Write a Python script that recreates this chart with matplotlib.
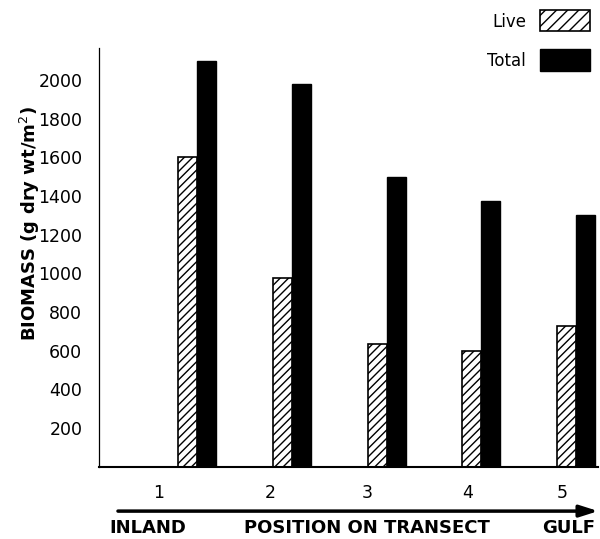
import matplotlib
matplotlib.use('Agg')
import matplotlib.pyplot as plt
from matplotlib.patches import Rectangle
import numpy as np

plt.rcParams['font.family'] = 'DejaVu Sans'
plt.rcParams['hatch.linewidth'] = 1.0

# data
positions = [1, 2, 3, 4, 5]
pos_labels = ['1', '2', '3', '4', '5']
live = [1600, 975, 635, 600, 730]
total = [2100, 1978, 1500, 1376, 1302]
yticks = [200, 400, 600, 800, 1000, 1200, 1400, 1600, 1800, 2000]

fig = plt.figure(figsize=(6, 5.39), dpi=100)
ax = fig.add_axes([0.165, 0.1341, 0.832, 0.7769])

x = np.array(positions, dtype=float)
w = 0.2
ax.bar(x - w / 2, live, w, color='white', edgecolor='black', hatch='////', linewidth=1.2)
ax.bar(x + w / 2, total, w, color='black', edgecolor='black', linewidth=1.0)

ax.set_xlim(-0.034, 5.232)
ax.set_ylim(0, 2166)
ax.set_yticks(yticks)
ax.set_yticklabels([str(v) for v in yticks], fontsize=12.5)
ax.tick_params(axis='y', length=0, pad=12)
ax.set_xticks([])
for s in ['top', 'right']:
    ax.spines[s].set_visible(False)
ax.spines['left'].set_linewidth(0.9)
ax.spines['bottom'].set_linewidth(1.5)

# position numbers, drawn a little left of each pair
num_x = [0.59, 1.77, 2.80, 3.85, 4.85]
for nx, lab in zip(num_x, pos_labels):
    ax.text(nx, -0.063, lab, transform=ax.get_xaxis_transform(),
            ha='center', va='center', fontsize=12.5, clip_on=False)

# transect arrow
ax.annotate('', xy=(1.0, -0.106), xytext=(0.038, -0.106),
            xycoords='axes fraction', textcoords='axes fraction',
            arrowprops=dict(arrowstyle='-|>,head_length=1.1,head_width=0.35',
                            color='black', lw=2.5, shrinkA=0, shrinkB=0))

ax.text(0.098, -0.146, 'INLAND', transform=ax.transAxes, ha='center', va='center',
        fontsize=13, fontweight='bold')
ax.text(0.537, -0.146, 'POSITION ON TRANSECT', transform=ax.transAxes, ha='center',
        va='center', fontsize=13, fontweight='bold')
ax.text(0.94, -0.146, 'GULF', transform=ax.transAxes, ha='center', va='center',
        fontsize=13, fontweight='bold')

fig.text(0.05, 0.586, 'BIOMASS (g dry wt/m$^2$)', rotation=90, ha='center',
         va='center', fontsize=13, fontweight='bold')

# legend drawn by hand
fig.text(0.877, 0.959, 'Live', ha='right', va='center', fontsize=12)
fig.text(0.877, 0.886, 'Total', ha='right', va='center', fontsize=12)
fig.patches.append(Rectangle((0.9, 0.9425), 0.0833, 0.039, transform=fig.transFigure,
                             facecolor='white', edgecolor='black', hatch='///', lw=1.2))
fig.patches.append(Rectangle((0.9, 0.868), 0.0833, 0.041, transform=fig.transFigure,
                             facecolor='black', edgecolor='black', lw=1.0))

fig.savefig('out.png', dpi=100)
